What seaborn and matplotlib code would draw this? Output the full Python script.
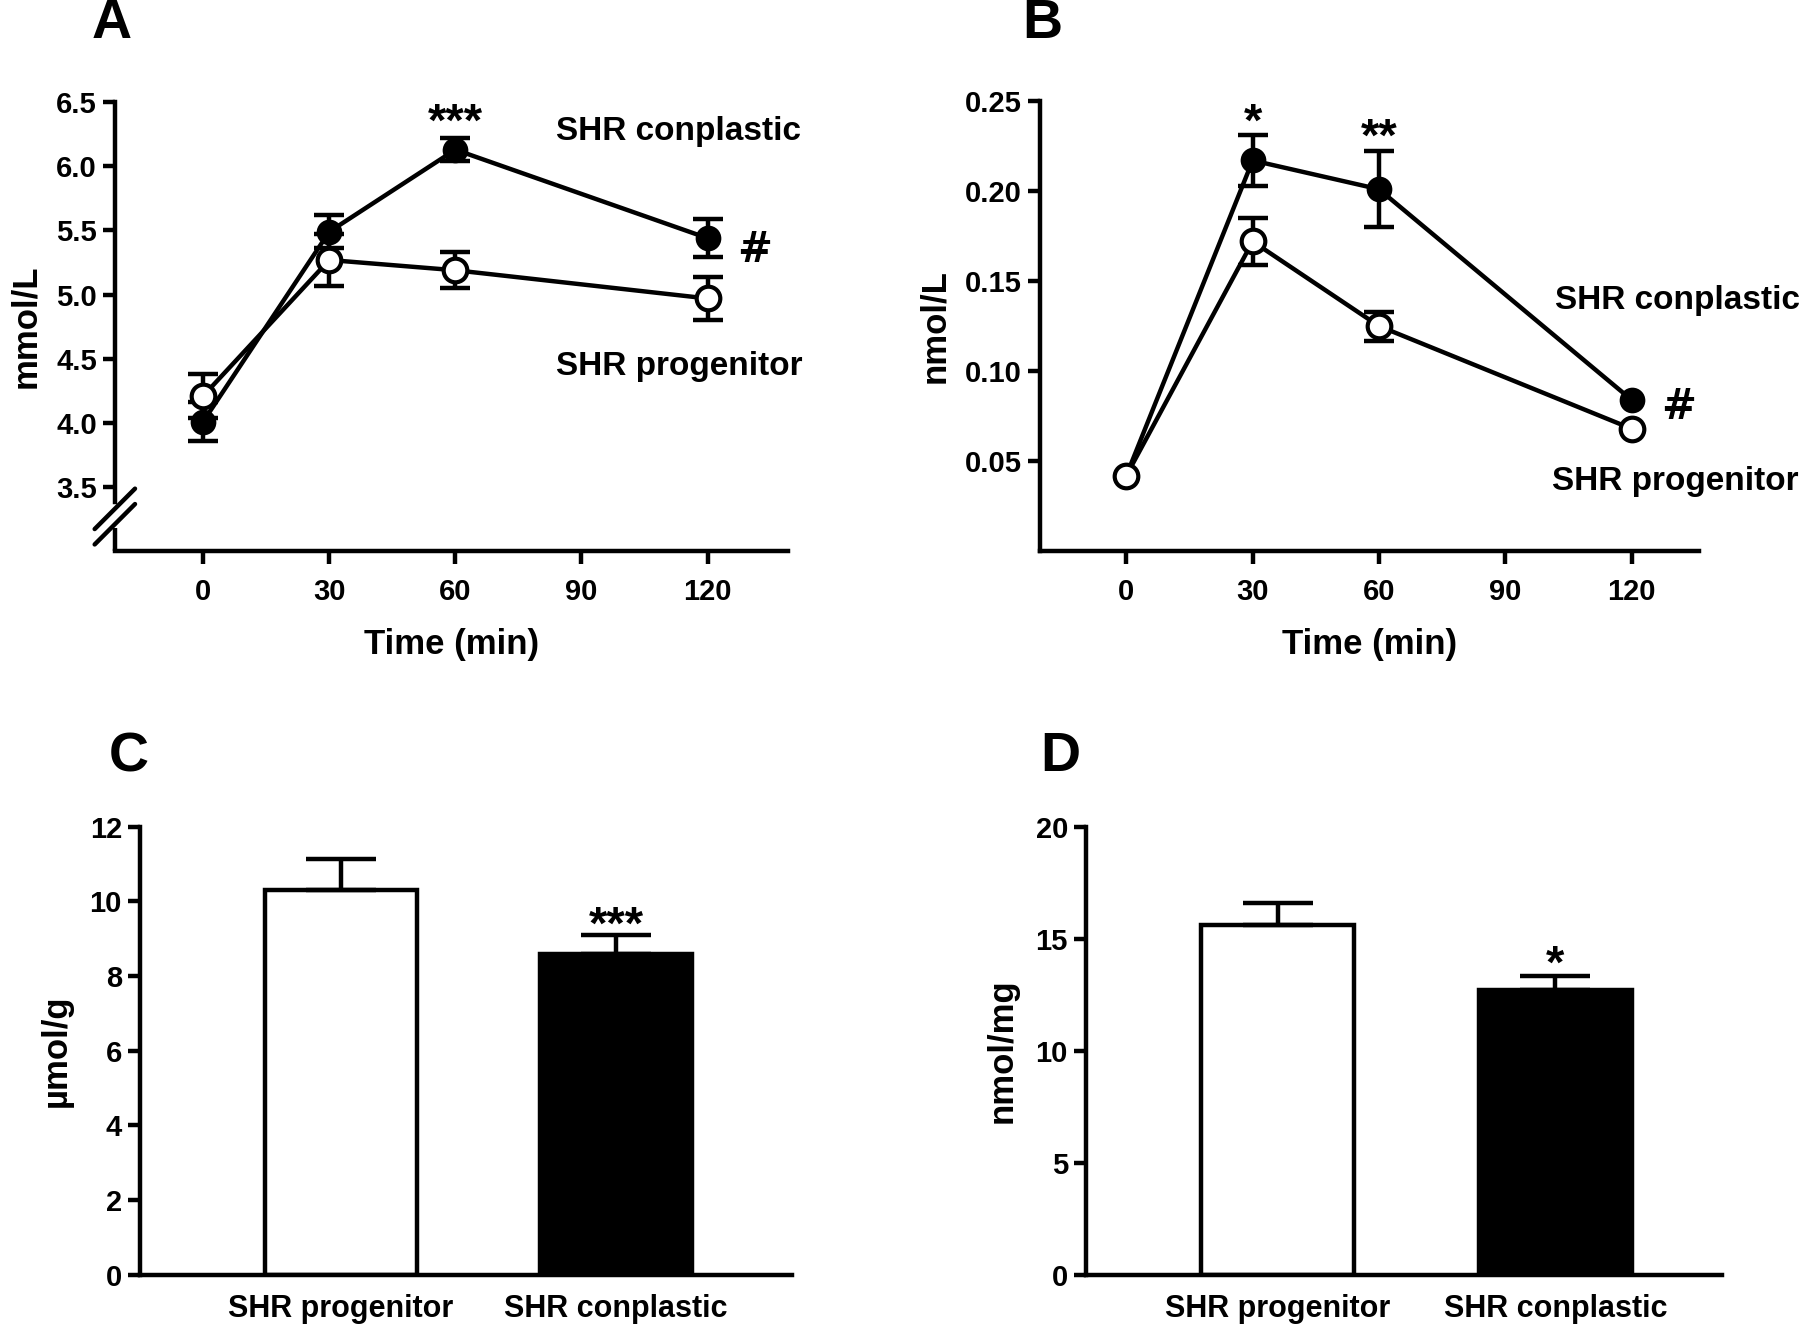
import matplotlib
matplotlib.use("Agg")
import matplotlib.pyplot as plt
import seaborn as sns

# Dados
time_min = [0, 30, 60, 120]
glucose_conplastic = [4.01, 5.49, 6.13, 5.44]
glucose_conplastic_sem = [0.15, 0.13, 0.09, 0.15]
glucose_progenitor = [4.21, 5.27, 5.19, 4.97]
glucose_progenitor_sem = [0.17, 0.20, 0.14, 0.17]

insulin_conplastic = [0.042, 0.217, 0.201, 0.084]
insulin_conplastic_sem = [0.002, 0.014, 0.021, 0.003]
insulin_progenitor = [0.042, 0.172, 0.125, 0.068]
insulin_progenitor_sem = [0.002, 0.013, 0.008, 0.003]

strains = ["SHR progenitor", "SHR conplastic"]
panel_c_values = [10.3, 8.6]
panel_c_sem = [0.83, 0.50]
panel_d_values = [15.6, 12.7]
panel_d_sem = [1.0, 0.62]

sns.set_theme(style="ticks")
plt.rcParams["font.family"] = ["Liberation Sans", "DejaVu Sans"]
plt.rcParams["font.weight"] = "bold"
plt.rcParams["axes.labelweight"] = "bold"
plt.rcParams["text.color"] = "black"
plt.rcParams["axes.labelcolor"] = "black"
plt.rcParams["xtick.color"] = "black"
plt.rcParams["ytick.color"] = "black"

LW = 3.2
TICK_FS = 21
LABEL_FS = 25
TEXT_FS = 24
STAR_FS = 34

fig = plt.figure(figsize=(18, 13.24), dpi=100)
axA = fig.add_axes([0.0638, 0.5837, 0.3737, 0.3391])
axB = fig.add_axes([0.5778, 0.5837, 0.3661, 0.3400])
axC = fig.add_axes([0.0778, 0.0373, 0.3622, 0.3382])
axD = fig.add_axes([0.6033, 0.0373, 0.3533, 0.3382])


def style_axes(ax):
    sns.despine(ax=ax)
    for side in ["left", "bottom"]:
        ax.spines[side].set_linewidth(LW)
        ax.spines[side].set_color("black")
    ax.tick_params(width=LW, length=9, labelsize=TICK_FS, color="black", pad=4)
    for lab in ax.get_xticklabels() + ax.get_yticklabels():
        lab.set_fontweight("bold")


def sem_bars(ax, y, e):
    # barras de erro menores que o símbolo não aparecem na figura original
    keep = [i for i in range(len(y)) if e[i] / (ax.get_ylim()[1] - ax.get_ylim()[0]) > 0.02]
    ax.errorbar([time_min[i] for i in keep], [y[i] for i in keep],
                yerr=[e[i] for i in keep], fmt="none", ecolor="black",
                elinewidth=LW, capsize=11, capthick=LW, zorder=2)


def time_course(ax, y_con, e_con, y_pro, e_pro):
    sem_bars(ax, y_con, e_con)
    sem_bars(ax, y_pro, e_pro)
    sns.lineplot(x=time_min, y=y_con, ax=ax, color="black", lw=LW, marker="o",
                 markersize=16, markerfacecolor="black", markeredgecolor="black",
                 markeredgewidth=2.5, zorder=3)
    sns.lineplot(x=time_min, y=y_pro, ax=ax, color="black", lw=LW, marker="o",
                 markersize=17, markerfacecolor="white", markeredgecolor="black",
                 markeredgewidth=3, zorder=4)
    ax.set_xticks([0, 30, 60, 90, 120])
    ax.set_xlabel("Time (min)", fontsize=LABEL_FS, fontweight="bold", labelpad=16)


# Painel A
axA.set_xlim(-21, 139)
axA.set_ylim(3.0, 6.5)
time_course(axA, glucose_conplastic, glucose_conplastic_sem,
            glucose_progenitor, glucose_progenitor_sem)
axA.set_xlim(-21, 139)
axA.set_ylim(3.0, 6.5)
axA.set_yticks([3.5, 4.0, 4.5, 5.0, 5.5, 6.0, 6.5])
axA.set_yticklabels(["3.5", "4.0", "4.5", "5.0", "5.5", "6.0", "6.5"])
axA.set_ylabel("mmol/L", fontsize=LABEL_FS, fontweight="bold", labelpad=10)
style_axes(axA)
axA.tick_params(axis="x", pad=10)
axA.spines["left"].set_bounds(3.38, 6.5)
axA.plot([0, 0], [3.0, 3.18], transform=axA.get_yaxis_transform(), color="black",
         lw=LW, clip_on=False, solid_capstyle="butt")
for yc in [3.33, 3.21]:
    yf = (yc - 3.0) / 3.5
    axA.plot([-0.03, 0.03], [yf - 0.045, yf + 0.045], transform=axA.transAxes,
             color="black", lw=LW, clip_on=False)
axA.text(60, 6.50, "***", ha="center", va="top", fontsize=STAR_FS, fontweight="bold")
axA.text(84, 6.27, "SHR conplastic", ha="left", va="center", fontsize=TEXT_FS)
axA.text(84, 4.44, "SHR progenitor", ha="left", va="center", fontsize=TEXT_FS)
axA.text(127, 5.35, "#", ha="left", va="center", fontsize=30, fontweight="bold",
         family="DejaVu Sans")

# Painel B
axB.set_xlim(-20.5, 136)
axB.set_ylim(0.0, 0.25)
time_course(axB, insulin_conplastic, insulin_conplastic_sem,
            insulin_progenitor, insulin_progenitor_sem)
axB.set_xlim(-20.5, 136)
axB.set_ylim(0.0, 0.25)
axB.set_yticks([0.05, 0.10, 0.15, 0.20, 0.25])
axB.set_yticklabels(["0.05", "0.10", "0.15", "0.20", "0.25"])
axB.set_ylabel("nmol/L", fontsize=LABEL_FS, fontweight="bold", labelpad=10)
style_axes(axB)
axB.tick_params(axis="x", pad=10)
axB.text(30, 0.2495, "*", ha="center", va="top", fontsize=STAR_FS, fontweight="bold")
axB.text(60, 0.2415, "**", ha="center", va="top", fontsize=STAR_FS, fontweight="bold")
axB.text(101.8, 0.139, "SHR conplastic", ha="left", va="center", fontsize=TEXT_FS)
axB.text(101.0, 0.0385, "SHR progenitor", ha="left", va="center", fontsize=TEXT_FS)
axB.text(127, 0.080, "#", ha="left", va="center", fontsize=30, fontweight="bold",
         family="DejaVu Sans")


def bar_panel(ax, values, sem, ylabel):
    sns.barplot(x=strains, y=values, hue=strains, palette=["white", "black"],
                edgecolor="black", linewidth=LW, width=0.55, legend=False, ax=ax)
    ax.errorbar([0, 1], values, yerr=[[0, 0], sem], fmt="none", ecolor="black",
                elinewidth=LW, capsize=25, capthick=LW, zorder=1)
    ax.set_ylabel(ylabel, fontsize=LABEL_FS, fontweight="bold", labelpad=12)
    ax.set_xlabel("")
    style_axes(ax)
    ax.tick_params(axis="x", length=0, pad=14, labelsize=22)


# Painel C
bar_panel(axC, panel_c_values, panel_c_sem, "µmol/g")
axC.set_xlim(-0.73, 1.64)
axC.set_ylim(0, 12)
axC.set_yticks([0, 2, 4, 6, 8, 10, 12])
axC.text(1, 9.9, "***", ha="center", va="top", fontsize=STAR_FS, fontweight="bold")

# Painel D
bar_panel(axD, panel_d_values, panel_d_sem, "nmol/mg")
axD.set_xlim(-0.69, 1.6)
axD.set_ylim(0, 20)
axD.set_yticks([0, 5, 10, 15, 20])
axD.text(1, 14.8, "*", ha="center", va="top", fontsize=STAR_FS, fontweight="bold")

for letter, x, y in [("A", 0.062, 0.982), ("B", 0.579, 0.982),
                     ("C", 0.0714, 0.428), ("D", 0.589, 0.428)]:
    fig.text(x, y, letter, ha="center", va="center", fontsize=40, fontweight="bold")

fig.savefig("out.png", dpi=100, facecolor="white")
